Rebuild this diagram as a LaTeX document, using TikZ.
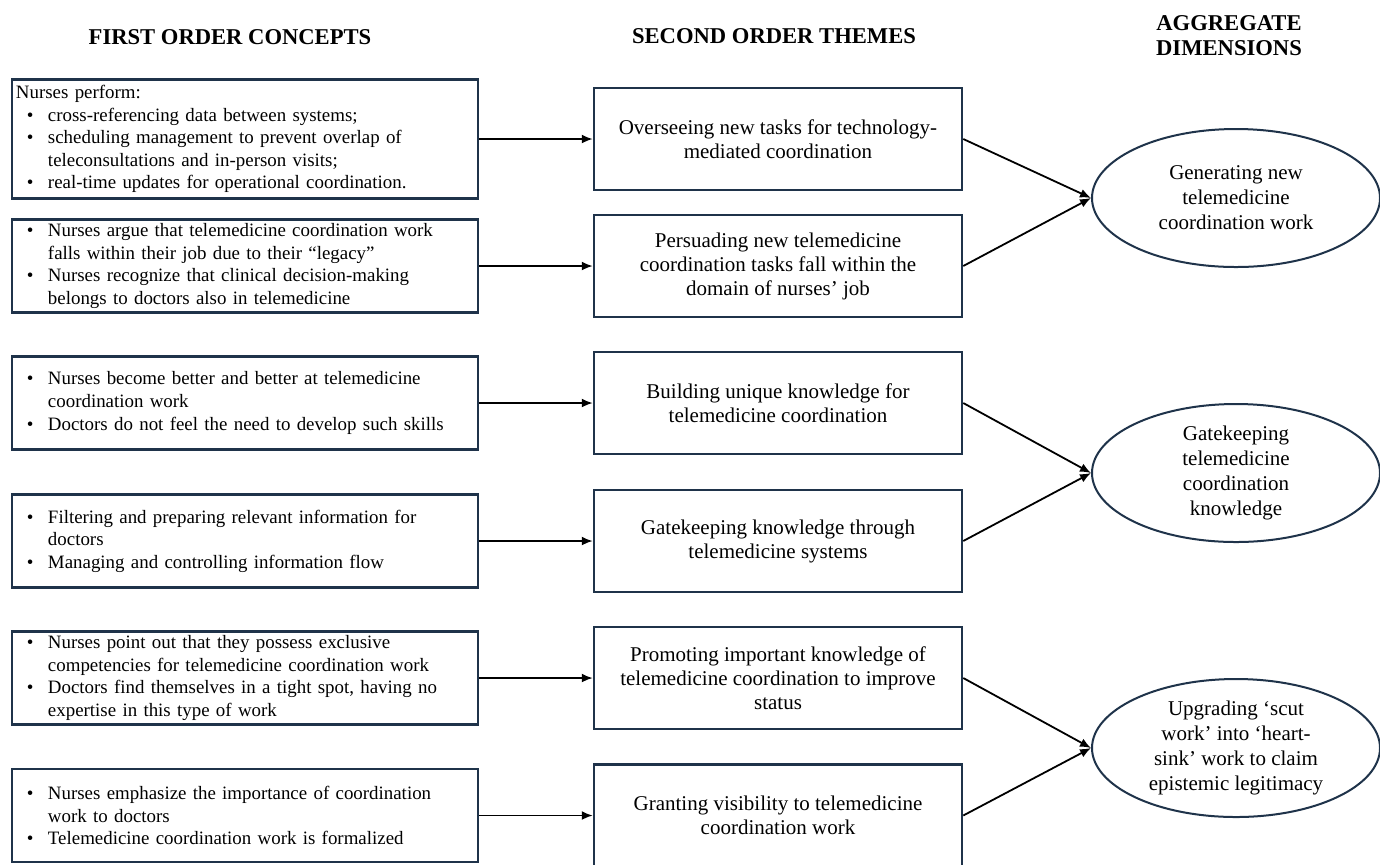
\documentclass[tikz,border=0pt]{standalone}
\usepackage{fontspec}
\setmainfont{Liberation Serif}
\usetikzlibrary{arrows.meta, positioning, shapes.geometric}

\definecolor{boxline}{HTML}{1F334A}

% bullet and hanging indent for the concept lists
\newcommand{\bul}{\hspace*{5.5pt}\makebox[10.5pt][l]{\textbullet}}
\newcommand{\ind}{\hspace*{16pt}}

\begin{document}
\begin{tikzpicture}[
  x=0.5pt, y=-0.5pt,
  concept/.style={draw=boxline, line width=1.25pt, minimum width=233pt, minimum height=46.5pt,
    text width=229pt, inner xsep=0pt, inner ysep=0pt, align=left,
    font=\fontsize{9.45}{11.3}\selectfont},
  theme/.style={draw=boxline, line width=1.25pt, minimum width=184pt, minimum height=51pt,
    inner sep=0pt, align=center, font=\fontsize{10.5}{12}\selectfont},
  dimension/.style={ellipse, draw=boxline, line width=1pt, minimum width=144pt, minimum height=69pt,
    inner sep=0pt, align=center, font=\fontsize{10.5}{12.5}\selectfont},
  header/.style={align=center, font=\fontsize{11.3}{12.5}\selectfont\bfseries},
  link/.style={-{Latex[length=5.5pt, width=4.5pt]}, line width=0.9pt, black},
]
\useasboundingbox (0,0) rectangle (1380,864);

% --- Column x positions ---
\def\colA{245}
\def\colB{778}
\def\colC{1236}

% --- Headers ---
\node[header] (hA) at (230, 37) {FIRST ORDER CONCEPTS};
\node[header] (hB) at (774, 36) {SECOND ORDER THEMES};
\node[header] (hC) at (1229, 36) {AGGREGATE\\DIMENSIONS};

% --- First order concepts ---
\node[concept, minimum height=59.5pt] (c1) at (\colA, 139) {Nurses perform:\\
  \bul cross-referencing data between systems;\\
  \bul scheduling management to prevent overlap of\\
  \ind teleconsultations and in-person visits;\\
  \bul real-time updates for operational coordination.};
\node[concept] (c2) at (\colA, 266) {\bul Nurses argue that telemedicine coordination work\\
  \ind falls within their job due to their ``legacy''\\
  \bul Nurses recognize that clinical decision-making\\
  \ind belongs to doctors also in telemedicine};
\node[concept] (c3) at (\colA, 403) {\bul Nurses become better and better at telemedicine\\
  \ind coordination work\\
  \bul Doctors do not feel the need to develop such skills};
\node[concept] (c4) at (\colA, 541) {\bul Filtering and preparing relevant information for\\
  \ind doctors\\
  \bul Managing and controlling information flow};
\node[concept] (c5) at (\colA, 678) {\bul Nurses point out that they possess exclusive\\
  \ind competencies for telemedicine coordination work\\
  \bul Doctors find themselves in a tight spot, having no\\
  \ind expertise in this type of work};
\node[concept] (c6) at (\colA, 815.5) {\bul Nurses emphasize the importance of coordination\\
  \ind work to doctors\\
  \bul Telemedicine coordination work is formalized};

% --- Second order themes ---
\node[theme] (t1) at (\colB, 139) {Overseeing new tasks for technology-\\mediated coordination};
\node[theme] (t2) at (\colB, 266) {Persuading new telemedicine\\coordination tasks fall within the\\domain of nurses' job};
\node[theme] (t3) at (\colB, 403) {Building unique knowledge for\\telemedicine coordination};
\node[theme] (t4) at (\colB, 541) {Gatekeeping knowledge through\\telemedicine systems};
\node[theme] (t5) at (\colB, 678) {Promoting important knowledge of\\telemedicine coordination to improve\\status};
\node[theme] (t6) at (\colB, 815.5) {Granting visibility to telemedicine\\coordination work};

% --- Aggregate dimensions ---
\node[dimension] (d1) at (\colC, 198) {Generating new\\telemedicine\\coordination work};
\node[dimension] (d2) at (\colC, 473) {Gatekeeping\\telemedicine\\coordination\\knowledge};
\node[dimension] (d3) at (\colC, 748) {Upgrading `scut\\work' into `heart-\\sink' work to claim\\epistemic legitimacy};

% --- Arrows ---
\foreach \i in {1,...,6}
  \draw[link] (c\i) -- (t\i);

\draw[link] (t1.east) -- (d1.west);
\draw[link] (t2.east) -- (d1.west);
\draw[link] (t3.east) -- (d2.west);
\draw[link] (t4.east) -- (d2.west);
\draw[link] (t5.east) -- (d3.west);
\draw[link] (t6.east) -- (d3.west);

\end{tikzpicture}
\end{document}
